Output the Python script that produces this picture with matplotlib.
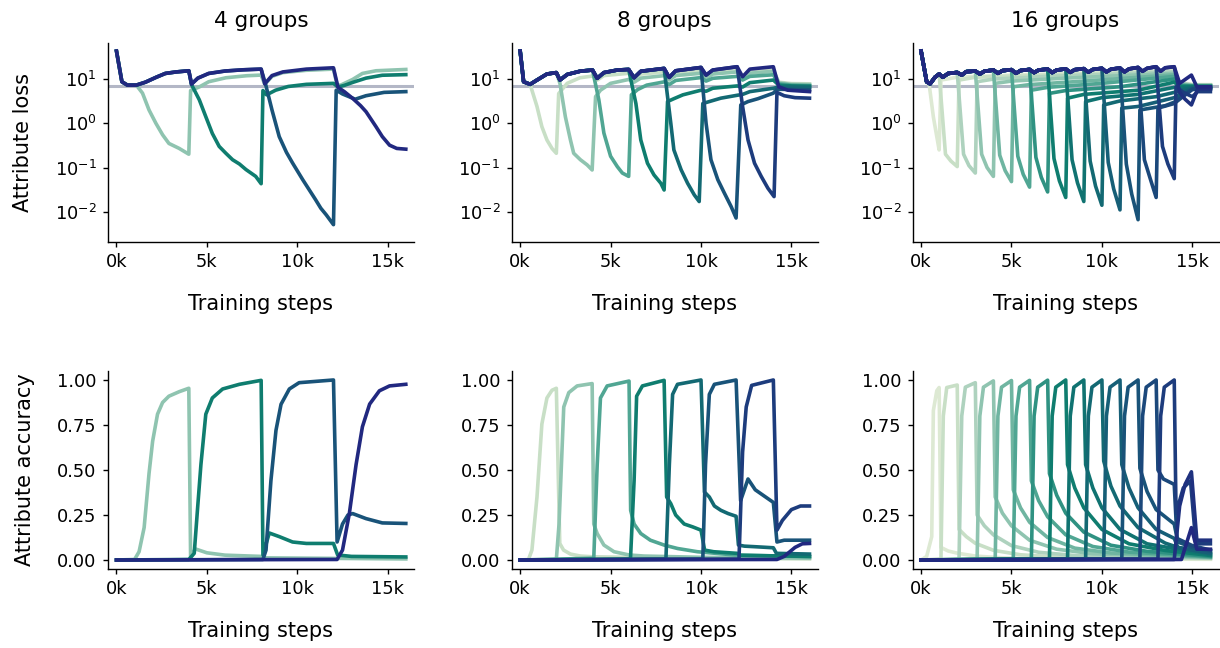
import matplotlib
matplotlib.use("Agg")
import matplotlib.pyplot as plt
from matplotlib.colors import LinearSegmentedColormap
from matplotlib.ticker import FuncFormatter, NullLocator

# training steps are in thousands (k); loss on a log axis
chance_loss = 6.9

group_counts = [4, 8, 16]
titles = ["4 groups", "8 groups", "16 groups"]

# top of the loss fan: the group that is trained last, before its own turn
env_4 = [(0, 43), (0.3, 8.7), (0.6, 7.3), (1.1, 7.3), (1.6, 8.5), (2.2, 11), (2.7, 13.4), (3.3, 14.5),
         (4.0, 15.4), (4.15, 7.7), (4.5, 10.5), (5.1, 13.4), (6.0, 15.2), (7.0, 16.2), (8.0, 16.8),
         (8.2, 7.8), (8.6, 12), (9.2, 14.5), (10.5, 16.8), (12.0, 18)]
env_8 = [(0, 43), (0.19, 8.7), (0.55, 7.6), (0.93, 9.5), (1.48, 13), (2.0, 14), (2.2, 9.5), (2.6, 12.7),
         (3.33, 15.1), (4.0, 16), (4.26, 10.4), (4.63, 14), (5.37, 16), (6.0, 16.5), (6.3, 10.7),
         (6.67, 15), (7.96, 17.4), (8.24, 10.9), (8.6, 15.4), (10.0, 18.3), (10.28, 12.3), (10.65, 16),
         (12.0, 19), (12.3, 11.3), (12.7, 16.8), (14.0, 19)]
env_16 = [(0, 43), (0.31, 8.7), (0.5, 7.8), (0.77, 11), (1.0, 13), (1.2, 11), (1.5, 13.4), (2.0, 14.1),
          (2.25, 12.3), (2.5, 14.7), (3.0, 15.2), (3.25, 13), (3.5, 15), (4.0, 16), (4.25, 13.5),
          (4.5, 15.5), (5.0, 16.3), (5.25, 13.5), (5.5, 15.6), (6.0, 16.5), (6.25, 14), (6.5, 16),
          (7.0, 16.8), (7.25, 14), (7.5, 16), (8.0, 17), (8.25, 14.2), (8.5, 16.3), (9.0, 17.2),
          (9.25, 14.3), (9.5, 16.5), (10.0, 17.5), (10.25, 14.5), (10.5, 16.7), (11.0, 17.8),
          (11.25, 14.5), (11.5, 17), (12.0, 18.3), (12.25, 15), (12.5, 17.5), (13.0, 19), (13.25, 15),
          (13.5, 18), (14.0, 19)]

# loss per group: (step where it leaves the top of the fan, points after that)
loss_4 = [
    (1.1, [(1.44, 4.8), (1.8, 2.0), (2.18, 1.0), (2.55, 0.55), (2.9, 0.35), (3.47, 0.27), (4.0, 0.2),
           (4.1, 5.5), (4.6, 6.7), (5.1, 8.7), (6.05, 10.7), (7.2, 11.9), (8.0, 12.3), (8.2, 7.6),
           (8.6, 11.5), (9.2, 14), (10.5, 15.8), (12.0, 16.8), (12.2, 7.3), (12.4, 7.3), (13.06, 9.8),
           (13.6, 13.4), (14.35, 15.4), (16.0, 16.5)]),
    (4.0, [(4.15, 7.5), (4.58, 3.4), (4.94, 1.41), (5.3, 0.59), (5.68, 0.3), (6.05, 0.21), (6.42, 0.15),
           (6.8, 0.12), (7.16, 0.09), (7.7, 0.063), (8.0, 0.043), (8.1, 5.5), (8.3, 4.4), (8.8, 5.6),
           (9.5, 6.8), (10.5, 7.6), (12.0, 8.0), (12.25, 6.6), (12.6, 7.2), (13.1, 8.5), (13.8, 10.5),
           (14.7, 12.2), (16.0, 12.6)]),
    (8.0, [(8.25, 7.5), (8.6, 2.0), (9.0, 0.5), (9.4, 0.22), (9.74, 0.126), (10.3, 0.053), (11.0, 0.019),
           (11.3, 0.012), (11.6, 0.0085), (12.0, 0.0051), (12.15, 5.6), (12.5, 4.6), (13.2, 3.5),
           (13.8, 4.2), (14.8, 5.0), (16.0, 5.2)]),
    (12.0, [(12.25, 6.5), (12.6, 5.2), (13.06, 3.66), (13.5, 2.5), (13.8, 1.83), (14.35, 0.84),
            (14.7, 0.5), (15.1, 0.32), (15.5, 0.27), (16.0, 0.26)]),
]

loss_8 = [
    (0.55, [(0.93, 2.4), (1.2, 0.84), (1.48, 0.42), (1.76, 0.27), (2.0, 0.21), (2.13, 4.7), (2.6, 8.0),
            (3.3, 10.7), (4.0, 11.7), (4.26, 9.5), (4.63, 12), (6.0, 13.5), (6.3, 10.5), (6.67, 13),
            (8.0, 14.5), (8.24, 10.8), (8.6, 13.5), (10.0, 15), (10.28, 11.5), (10.65, 14), (12.0, 15.5),
            (12.3, 11.5), (12.7, 14.5), (14.0, 16), (14.3, 8.5), (15.0, 7.9), (16.0, 7.8)]),
    (2.0, [(2.2, 8.0), (2.5, 1.4), (2.78, 0.42), (2.96, 0.21), (3.33, 0.15), (3.7, 0.115), (3.98, 0.088),
           (4.17, 4.0), (4.44, 5.6), (5.0, 8.0), (6.0, 9.8), (6.3, 8.5), (6.67, 10.5), (8.0, 12),
           (8.24, 9.5), (8.6, 12), (10.0, 13.5), (10.28, 10.5), (10.65, 13), (12.0, 14.5), (12.3, 11),
           (12.7, 13.5), (14.0, 15), (14.3, 8.2), (15.0, 7.6), (16.0, 7.5)]),
    (4.0, [(4.35, 3.4), (4.63, 0.6), (5.0, 0.18), (5.37, 0.105), (5.65, 0.075), (6.0, 0.063), (6.15, 4.4),
           (6.5, 5.8), (7.0, 7.3), (8.0, 8.7), (8.24, 7.5), (8.6, 9.3), (10.0, 10.8), (10.28, 9),
           (10.65, 10.4), (12.0, 11.5), (12.3, 9.5), (12.7, 11.5), (14.0, 12.5), (14.3, 7.8), (15.0, 7.3),
           (16.0, 7.1)]),
    (6.0, [(6.4, 2.8), (6.67, 0.42), (7.04, 0.125), (7.4, 0.068), (7.78, 0.044), (7.96, 0.031), (8.15, 3.1),
           (8.5, 3.6), (9.0, 4.4), (10.0, 5.6), (10.28, 5.3), (10.65, 6.2), (12.0, 7.0), (12.3, 6.6),
           (12.7, 8.3), (14.0, 9.5), (14.3, 7.3), (15.0, 7.0), (16.0, 6.9)]),
    (8.0, [(8.33, 1.0), (8.5, 0.25), (8.9, 0.089), (9.26, 0.044), (9.63, 0.024), (9.9, 0.017), (10.1, 2.8),
           (10.46, 3.1), (11.1, 3.7), (12.0, 4.3), (12.3, 4.5), (12.7, 5.2), (14.0, 6.2), (14.3, 6.6),
           (15.0, 6.6), (16.0, 6.5)]),
    (10.0, [(10.28, 1.0), (10.55, 0.15), (10.93, 0.053), (11.3, 0.026), (11.67, 0.013), (11.94, 0.0072),
            (12.2, 2.6), (12.6, 3.1), (13.15, 3.6), (14.0, 4.8), (14.2, 5.9), (15.0, 5.8), (16.0, 5.7)]),
    (12.0, [(12.3, 2.4), (12.6, 0.42), (12.96, 0.125), (13.33, 0.063), (13.7, 0.034), (14.04, 0.022),
            (14.2, 5.0), (14.6, 4.2), (15.2, 3.8), (16.0, 3.7)]),
    (14.0, [(14.3, 6.7), (14.8, 5.6), (16.0, 5.2)]),
]

loss_16 = [
    (0.31, [(0.45, 7.5), (0.68, 1.4), (0.87, 0.5), (1.0, 0.25), (1.1, 9.5), (2.0, 11), (5.0, 12.3),
            (14.0, 15.5), (14.3, 8.5), (15.0, 7.5), (16.0, 7.5)]),
    (1.0, [(1.35, 0.2), (1.65, 0.14), (2.0, 0.105), (2.1, 9.5), (3.0, 11), (6.0, 12), (14.0, 15),
           (14.3, 8.3), (15.0, 7.4), (16.0, 7.4)]),
    (2.0, [(2.35, 0.2), (2.65, 0.11), (3.0, 0.075), (3.1, 8.7), (4.0, 10), (7.0, 11.5), (14.0, 14.5),
           (14.3, 8.0), (15.0, 7.3), (16.0, 7.3)]),
    (3.0, [(3.35, 0.2), (3.65, 0.1), (4.0, 0.063), (4.1, 8.0), (5.0, 9), (8.0, 10.5), (14.0, 13.5),
           (14.3, 7.8), (15.0, 7.2), (16.0, 7.2)]),
    (4.0, [(4.35, 0.19), (4.65, 0.085), (5.0, 0.048), (5.1, 6.7), (6.0, 7.5), (9.0, 9), (14.0, 12.5),
           (14.3, 7.5), (15.0, 7.1), (16.0, 7.1)]),
    (5.0, [(5.35, 0.18), (5.65, 0.07), (6.0, 0.036), (6.1, 5.6), (7.0, 6.5), (10.0, 8), (14.0, 11.5),
           (14.3, 7.3), (15.0, 7.0), (16.0, 7.0)]),
    (6.0, [(6.35, 0.17), (6.65, 0.06), (7.0, 0.028), (7.1, 4.75), (8.0, 5.5), (11.0, 6.7), (14.0, 10),
           (14.3, 7.0), (15.0, 6.9), (16.0, 6.9)]),
    (7.0, [(7.35, 0.16), (7.65, 0.05), (8.0, 0.021), (8.1, 3.7), (9.0, 4.5), (12.0, 5.6), (14.0, 8.5),
           (14.3, 6.8), (15.0, 6.8), (16.0, 6.8)]),
    (8.0, [(8.35, 0.15), (8.65, 0.045), (9.0, 0.017), (9.1, 3.1), (10.0, 3.8), (12.0, 4.5), (14.0, 6.5),
           (14.3, 6.2), (15.0, 6.6), (16.0, 6.6)]),
    (9.0, [(9.35, 0.14), (9.65, 0.038), (10.0, 0.014), (10.1, 2.6), (11.0, 3.2), (13.0, 4.0), (14.0, 5.0),
           (14.3, 5.5), (15.0, 6.4), (16.0, 6.5)]),
    (10.0, [(10.35, 0.13), (10.65, 0.033), (11.0, 0.011), (11.1, 2.2), (12.0, 2.4), (13.0, 3.0),
            (14.0, 3.8), (14.3, 4.5), (15.0, 6.2), (16.0, 6.3)]),
    (11.0, [(11.35, 0.12), (11.65, 0.025), (12.0, 0.0066), (12.1, 2.0), (13.5, 2.5), (14.0, 3.0),
            (14.3, 3.8), (15.0, 6.0), (16.0, 6.2)]),
    (12.0, [(12.35, 0.15), (12.65, 0.06), (13.0, 0.021), (13.1, 2.2), (14.0, 2.8), (14.3, 3.5),
            (15.0, 5.8), (16.0, 6.0)]),
    (13.0, [(13.35, 0.3), (13.65, 0.12), (14.0, 0.056), (14.1, 6.7), (14.5, 5.0), (15.0, 4.0),
            (15.3, 5.2), (16.0, 5.2)]),
    (14.0, [(14.3, 5.0), (14.6, 3.5), (14.95, 2.6), (15.3, 6.0), (16.0, 6.0)]),
    (14.0, [(14.3, 8.0), (14.95, 12.3), (15.25, 6.7), (16.0, 6.7)]),
]

acc_4 = [
    [(0, 0), (1.0, 0.003), (1.25, 0.046), (1.53, 0.18), (1.8, 0.48), (2.0, 0.66), (2.27, 0.81),
     (2.55, 0.875), (2.9, 0.91), (3.47, 0.935), (4.0, 0.954), (4.1, 0.01), (4.35, 0.062), (5.0, 0.04),
     (6.0, 0.027), (8.0, 0.02), (8.2, 0.012), (16.0, 0.006)],
    [(0, 0), (4.0, 0.003), (4.3, 0.037), (4.48, 0.28), (4.67, 0.53), (4.94, 0.81), (5.3, 0.90),
     (5.87, 0.95), (6.8, 0.976), (8.0, 0.998), (8.1, 0.028), (8.45, 0.15), (9.0, 0.13), (9.74, 0.10),
     (10.5, 0.092), (12.0, 0.092), (12.23, 0.028), (13.0, 0.02), (16.0, 0.017)],
    [(0, 0), (8.1, 0.003), (8.27, 0.055), (8.54, 0.44), (8.82, 0.72), (9.1, 0.865), (9.56, 0.95),
     (10.1, 0.985), (12.0, 1.0), (12.2, 0.10), (12.5, 0.2), (12.8, 0.25), (13.06, 0.258), (13.8, 0.23),
     (14.7, 0.206), (16.0, 0.203)],
    [(0, 0), (12.2, 0.003), (12.5, 0.055), (12.88, 0.26), (13.25, 0.53), (13.6, 0.74), (14.0, 0.866),
     (14.54, 0.94), (15.1, 0.967), (16.0, 0.976)],
]

acc_8 = [
    [(0, 0), (0.46, 0.003), (0.65, 0.055), (0.93, 0.35), (1.2, 0.755), (1.48, 0.90), (1.76, 0.943),
     (2.0, 0.954), (2.19, 0.092), (2.4, 0.055), (2.78, 0.033), (3.33, 0.022), (4.0, 0.018), (8.0, 0.012),
     (16.0, 0.006)],
    [(0, 0), (2.0, 0.003), (2.15, 0.2), (2.41, 0.85), (2.69, 0.93), (3.15, 0.967), (3.98, 0.98),
     (4.07, 0.2), (4.26, 0.147), (4.63, 0.083), (5.19, 0.046), (6.02, 0.028), (6.85, 0.022), (10.0, 0.015),
     (16.0, 0.01)],
    [(0, 0), (4.07, 0.01), (4.26, 0.53), (4.44, 0.90), (4.81, 0.967), (6.02, 0.994), (6.11, 0.276),
     (6.3, 0.2), (6.67, 0.147), (7.2, 0.11), (7.96, 0.083), (8.7, 0.064), (9.8, 0.046), (11.85, 0.028),
     (16.0, 0.018)],
    [(0, 0), (6.1, 0.005), (6.3, 0.44), (6.44, 0.91), (6.76, 0.967), (7.96, 0.998), (8.1, 0.35),
     (8.33, 0.313), (8.6, 0.25), (9.07, 0.2), (9.54, 0.184), (10.0, 0.166), (10.2, 0.055), (10.7, 0.046),
     (12.0, 0.037), (12.2, 0.026), (16.0, 0.02)],
    [(0, 0), (8.06, 0.005), (8.25, 0.53), (8.43, 0.92), (8.7, 0.976), (10.0, 1.0), (10.19, 0.378),
     (10.46, 0.35), (10.74, 0.30), (11.1, 0.276), (11.5, 0.258), (11.94, 0.243), (12.07, 0.083),
     (12.4, 0.077), (12.96, 0.074), (14.0, 0.068), (14.17, 0.037), (16.0, 0.033)],
    [(0, 0), (10.1, 0.005), (10.25, 0.53), (10.46, 0.92), (10.74, 0.976), (11.94, 1.0), (12.19, 0.33),
     (12.6, 0.45), (13.0, 0.39), (14.0, 0.32), (14.2, 0.1), (14.6, 0.11), (16.0, 0.11)],
    [(0, 0), (12.1, 0.005), (12.3, 0.6), (12.5, 0.85), (12.8, 0.97), (14.0, 1.0), (14.2, 0.166),
     (14.5, 0.22), (15.0, 0.28), (15.5, 0.30), (16.0, 0.30)],
    [(0, 0), (14.2, 0.003), (14.6, 0.02), (15.2, 0.07), (15.6, 0.09), (16.0, 0.092)],
]

acc_16 = [
    [(0, 0), (0.31, 0.02), (0.59, 0.13), (0.68, 0.83), (0.87, 0.94), (1.0, 0.958), (1.1, 0.07),
     (1.5, 0.05), (2.0, 0.038), (3.0, 0.022), (4.5, 0.012), (6.5, 0.007), (16.0, 0.004)],
    [(0, 0), (1.1, 0.005), (1.23, 0.8), (1.42, 0.958), (2.0, 0.972), (2.1, 0.17), (2.5, 0.13),
     (3.0, 0.093), (4.0, 0.054), (5.5, 0.029), (7.5, 0.017), (16.0, 0.008)],
    [(0, 0), (2.1, 0.005), (2.25, 0.8), (2.45, 0.96), (3.0, 0.985), (3.1, 0.25), (3.5, 0.19),
     (4.0, 0.14), (5.0, 0.08), (6.5, 0.043), (8.5, 0.025), (16.0, 0.01)],
    [(0, 0), (3.1, 0.005), (3.25, 0.8), (3.45, 0.96), (4.0, 0.995), (4.1, 0.35), (4.5, 0.26),
     (5.0, 0.19), (6.0, 0.11), (7.5, 0.06), (9.5, 0.035), (16.0, 0.012)],
    [(0, 0), (4.1, 0.005), (4.25, 0.8), (4.45, 0.96), (5.0, 0.997), (5.1, 0.39), (5.5, 0.29),
     (6.0, 0.21), (7.0, 0.125), (8.5, 0.066), (10.5, 0.039), (16.0, 0.015)],
    [(0, 0), (5.1, 0.005), (5.25, 0.8), (5.45, 0.96), (6.0, 0.998), (6.1, 0.44), (6.5, 0.33),
     (7.0, 0.24), (8.0, 0.14), (9.5, 0.075), (11.5, 0.044), (16.0, 0.017)],
    [(0, 0), (6.1, 0.005), (6.25, 0.8), (6.45, 0.96), (7.0, 0.999), (7.1, 0.48), (7.5, 0.36),
     (8.0, 0.26), (9.0, 0.155), (10.5, 0.082), (12.5, 0.048), (16.0, 0.02)],
    [(0, 0), (7.1, 0.005), (7.25, 0.8), (7.45, 0.96), (8.0, 1.0), (8.1, 0.53), (8.5, 0.4),
     (9.0, 0.29), (10.0, 0.17), (11.5, 0.09), (13.5, 0.053), (16.0, 0.025)],
    [(0, 0), (8.1, 0.005), (8.25, 0.8), (8.45, 0.96), (9.0, 1.0), (9.1, 0.53), (9.5, 0.4),
     (10.0, 0.29), (11.0, 0.17), (12.5, 0.09), (14.2, 0.06), (16.0, 0.03)],
    [(0, 0), (9.1, 0.005), (9.25, 0.8), (9.45, 0.96), (10.0, 1.0), (10.1, 0.55), (10.5, 0.41),
     (11.0, 0.3), (12.0, 0.18), (13.5, 0.094), (14.2, 0.07), (16.0, 0.035)],
    [(0, 0), (10.1, 0.005), (10.25, 0.8), (10.45, 0.96), (11.0, 1.0), (11.1, 0.53), (11.5, 0.4),
     (12.0, 0.29), (13.0, 0.17), (14.0, 0.12), (14.2, 0.07), (16.0, 0.04)],
    [(0, 0), (11.1, 0.005), (11.25, 0.8), (11.45, 0.96), (12.0, 1.0), (12.1, 0.51), (12.5, 0.38),
     (13.0, 0.28), (14.0, 0.2), (14.2, 0.1), (15.0, 0.07), (16.0, 0.05)],
    [(0, 0), (12.1, 0.005), (12.25, 0.8), (12.45, 0.96), (13.0, 1.0), (13.1, 0.5), (13.4, 0.45),
     (14.0, 0.42), (14.15, 0.12), (15.0, 0.08), (16.0, 0.055)],
    [(0, 0), (13.1, 0.005), (13.25, 0.8), (13.45, 0.96), (14.0, 1.0), (14.1, 0.26), (14.5, 0.40),
     (14.9, 0.44), (15.2, 0.09), (16.0, 0.09)],
    [(0, 0), (14.0, 0.003), (14.3, 0.3), (14.6, 0.42), (14.95, 0.49), (15.25, 0.11), (16.0, 0.11)],
    [(0, 0), (14.4, 0.003), (14.95, 0.18), (15.25, 0.06), (16.0, 0.06)],
]

envs = [env_4, env_8, env_16]
losses = [loss_4, loss_8, loss_16]
accs = [acc_4, acc_8, acc_16]

cmap = LinearSegmentedColormap.from_list(
    "groups", ["#eef1e2", "#d3e4ca", "#a9d0bc", "#76b8a4", "#44a08e", "#0f7d6f",
               "#116d72", "#175d77", "#1b4b7b", "#1e387e", "#212880"])

plt.rcParams["font.family"] = "DejaVu Sans"
fig = plt.figure(figsize=(12.2, 6.48), dpi=100)

lefts = [0.0885, 0.4194, 0.748]
width = 0.2508
top_row = (0.627, 0.306)
bottom_row = (0.1219, 0.3056)


def style(ax):
    ax.spines["top"].set_visible(False)
    ax.spines["right"].set_visible(False)
    for s in ["left", "bottom"]:
        ax.spines[s].set_linewidth(1.0)
    ax.tick_params(labelsize=12.8, length=3.6, width=1.0, pad=4.5)
    ax.set_xlim(-0.47, 16.45)
    ax.set_xticks([0, 5, 10, 15])
    ax.xaxis.set_major_formatter(FuncFormatter(lambda v, p: f"{v:.0f}k"))
    ax.set_xlabel("Training steps", fontsize=15, labelpad=16.5)


for c, n in enumerate(group_counts):
    colors = [cmap((i + 1) / n) for i in range(n)]

    ax = fig.add_axes([lefts[c], top_row[0], width, top_row[1]])
    ax.axhline(chance_loss, color="#b3b7c6", lw=2.2, zorder=1)
    env = envs[c]
    for i, (start, pts) in enumerate(losses[c]):
        curve = [p for p in env if p[0] <= start] + pts
        xs = [p[0] for p in curve]
        ys = [p[1] for p in curve]
        ax.plot(xs, ys, color=colors[i], lw=2.6, zorder=2 + i, solid_joinstyle="round")
    ax.set_yscale("log")
    ax.set_ylim(0.0021, 64)
    ax.set_yticks([0.01, 0.1, 1, 10])
    ax.yaxis.set_minor_locator(NullLocator())
    style(ax)
    ax.set_title(titles[c], fontsize=15.5, pad=12)
    if c == 0:
        ax.set_ylabel("Attribute loss", fontsize=15, labelpad=16)

    ax = fig.add_axes([lefts[c], bottom_row[0], width, bottom_row[1]])
    for i, pts in enumerate(accs[c]):
        xs = [p[0] for p in pts]
        ys = [p[1] for p in pts]
        ax.plot(xs, ys, color=colors[i], lw=2.6, zorder=2 + i, solid_joinstyle="round")
    ax.set_ylim(-0.05, 1.05)
    ax.set_yticks([0, 0.25, 0.5, 0.75, 1.0])
    ax.yaxis.set_major_formatter(FuncFormatter(lambda v, p: f"{v:.2f}"))
    style(ax)
    if c == 0:
        ax.set_ylabel("Attribute accuracy", fontsize=15, labelpad=16)

fig.savefig("out.png", dpi=100)
